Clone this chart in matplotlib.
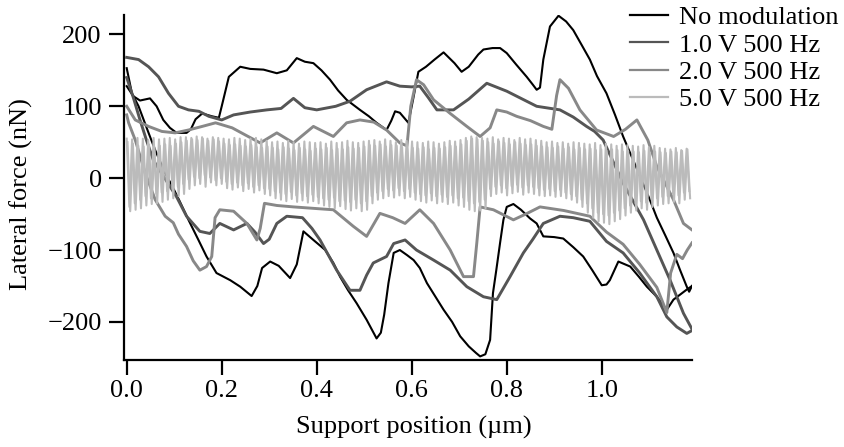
import numpy as np
import matplotlib
matplotlib.use("Agg")
import matplotlib.pyplot as plt

# ---------------- data ----------------
labels = ["No modulation", "1.0 V 500 Hz", "2.0 V 500 Hz", "5.0 V 500 Hz"]
colors = ["#000000", "#555555", "#888888", "#bbbbbb"]

# No modulation
nomod_up_x = [0.0, 0.014, 0.028, 0.049, 0.063, 0.077, 0.091, 0.105, 0.126, 0.135, 0.145, 0.159, 0.18, 0.194,
              0.2, 0.215, 0.239, 0.26, 0.288, 0.316, 0.337, 0.358, 0.375, 0.393, 0.41, 0.428, 0.445, 0.463,
              0.491, 0.51, 0.526, 0.547, 0.557, 0.565, 0.575, 0.593, 0.603, 0.614, 0.63, 0.648, 0.667, 0.69,
              0.705, 0.72, 0.74, 0.751, 0.77, 0.786, 0.8, 0.82, 0.842, 0.855, 0.863, 0.87, 0.877, 0.891,
              0.909, 0.925, 0.94, 0.958, 0.975, 0.99, 1.01, 1.028, 1.045, 1.063, 1.081, 1.1, 1.116, 1.134,
              1.151, 1.165, 1.179, 1.184, 1.19]
nomod_up_y = [128, 114, 108, 111, 100, 81, 70, 63, 63, 68, 82, 90, 86, 84, 100, 141, 155, 152, 151, 146, 150,
              167, 162, 160, 150, 137, 122, 109, 95, 86, 77, 67, 80, 93, 91, 77, 110, 148, 155, 165, 175,
              160, 148, 155, 172, 179, 181, 181, 174, 158, 141, 130, 123, 126, 165, 211, 226, 218, 206, 185,
              165, 142, 118, 88, 58, 30, 2, -28, -55, -80, -104, -128, -151, -158, -150]
nomod_dn_x = [0.0, 0.011, 0.025, 0.046, 0.06, 0.08, 0.095, 0.11, 0.13, 0.151, 0.168, 0.189, 0.218, 0.239,
              0.263, 0.275, 0.285, 0.302, 0.32, 0.344, 0.358, 0.372, 0.393, 0.418, 0.435, 0.449, 0.466, 0.484,
              0.505, 0.526, 0.535, 0.542, 0.551, 0.562, 0.575, 0.59, 0.604, 0.617, 0.632, 0.65, 0.667, 0.685,
              0.702, 0.72, 0.735, 0.744, 0.755, 0.765, 0.771, 0.778, 0.786, 0.793, 0.8, 0.814, 0.83, 0.849,
              0.863, 0.877, 0.9, 0.919, 0.94, 0.961, 0.98, 1.0, 1.01, 1.017, 1.035, 1.06, 1.078, 1.095, 1.116,
              1.137, 1.151, 1.165, 1.179, 1.19]
nomod_dn_y = [153, 118, 100, 63, 39, 8, -10, -30, -58, -86, -109, -132, -142, -151, -164, -150, -125, -116,
              -122, -139, -120, -74, -86, -100, -118, -137, -156, -174, -197, -223, -215, -190, -146, -104,
              -100, -107, -114, -125, -146, -165, -183, -200, -220, -234, -243, -248, -245, -225, -160, -128,
              -90, -58, -40, -36, -44, -56, -63, -81, -82, -84, -96, -109, -128, -149, -148, -142, -116, -123,
              -137, -151, -165, -183, -169, -162, -155, -150]

# 1.0 V 500 Hz
v1_up_x = [0.0, 0.025, 0.046, 0.067, 0.088, 0.109, 0.13, 0.152, 0.173, 0.2, 0.225, 0.26, 0.295, 0.325, 0.351,
           0.375, 0.4, 0.44, 0.47, 0.505, 0.547, 0.575, 0.6, 0.617, 0.635, 0.653, 0.688, 0.72, 0.758, 0.8,
           0.863, 0.912, 0.94, 0.968, 0.985, 1.003, 1.045, 1.088, 1.116, 1.144, 1.172, 1.19]
v1_up_y = [168, 165, 155, 141, 118, 100, 95, 93, 86, 81, 88, 92, 95, 97, 111, 98, 95, 100, 107, 123, 134, 128,
           127, 128, 112, 95, 95, 110, 132, 121, 100, 95, 85, 72, 65, 53, -7, -58, -100, -142, -188, -210]
v1_dn_x = [0.0, 0.014, 0.028, 0.042, 0.056, 0.08, 0.105, 0.126, 0.154, 0.175, 0.196, 0.225, 0.253, 0.27,
           0.288, 0.3, 0.316, 0.337, 0.37, 0.39, 0.407, 0.442, 0.47, 0.491, 0.505, 0.519, 0.547, 0.562, 0.586,
           0.61, 0.646, 0.681, 0.716, 0.751, 0.779, 0.807, 0.835, 0.855, 0.877, 0.912, 0.94, 0.975, 1.01,
           1.045, 1.08, 1.116, 1.137, 1.158, 1.179, 1.19]
v1_dn_y = [140, 112, 81, 52, 25, 0, -26, -53, -74, -77, -63, -72, -63, -75, -91, -85, -63, -53, -55, -70,
           -86, -128, -156, -156, -135, -118, -109, -91, -86, -100, -114, -128, -151, -165, -169, -137, -104,
           -85, -63, -53, -55, -60, -88, -104, -132, -165, -193, -207, -216, -212]

# 2.0 V 500 Hz
v2_up_x = [0.0, 0.018, 0.046, 0.074, 0.102, 0.13, 0.159, 0.187, 0.222, 0.25, 0.281, 0.316, 0.351, 0.393,
           0.435, 0.463, 0.491, 0.52, 0.547, 0.575, 0.59, 0.598, 0.61, 0.625, 0.646, 0.681, 0.716, 0.744,
           0.765, 0.779, 0.8, 0.821, 0.85, 0.877, 0.895, 0.905, 0.912, 0.93, 0.954, 0.989, 1.025, 1.05,
           1.074, 1.097, 1.116, 1.151, 1.172, 1.19]
v2_up_y = [100, 81, 72, 65, 63, 67, 72, 77, 70, 60, 49, 63, 49, 72, 58, 77, 81, 78, 67, 49, 45, 100, 137,
           130, 109, 90, 72, 58, 70, 95, 92, 86, 80, 72, 68, 115, 137, 125, 95, 67, 58, 68, 81, 53, 16, -30,
           -63, -72]
v2_dn_x = [0.0, 0.004, 0.018, 0.039, 0.06, 0.081, 0.098, 0.109, 0.126, 0.14, 0.154, 0.168, 0.179, 0.186,
           0.196, 0.225, 0.253, 0.274, 0.281, 0.29, 0.316, 0.351, 0.393, 0.435, 0.477, 0.505, 0.533, 0.56,
           0.586, 0.617, 0.646, 0.681, 0.709, 0.73, 0.737, 0.744, 0.772, 0.814, 0.84, 0.87, 0.92, 0.975,
           1.01, 1.045, 1.08, 1.116, 1.137, 1.145, 1.158, 1.17, 1.18, 1.19]
v2_dn_y = [88, 77, 53, 7, -30, -53, -62, -78, -95, -115, -128, -123, -109, -55, -44, -46, -63, -86, -70,
           -35, -38, -40, -42, -44, -67, -81, -49, -55, -63, -44, -63, -100, -137, -137, -90, -40, -44, -58,
           -50, -40, -45, -53, -75, -92, -120, -152, -187, -132, -106, -112, -100, -90]

# 5.0 V 500 Hz : one value per oscillation maximum / minimum (105 cycles over the scan)
v5_a_max = [55, 54, 56, 55, 53, 56, 54, 55, 56, 54, 57, 57, 56, 58, 57, 55, 57, 56,
            55, 54, 56, 55, 53, 55, 56, 54, 52, 50, 51, 49, 52, 50, 48, 51, 50, 49,
            50, 48, 51, 49, 50, 52, 50, 49, 51, 52, 53, 51, 54, 52, 50, 53, 52, 51,
            50, 49, 51, 50, 48, 50, 52, 51, 53, 56, 58, 57, 56, 55, 57, 54, 56, 55,
            53, 56, 54, 55, 53, 52, 50, 51, 49, 50, 48, 50, 49, 48, 47, 49, 46, 48,
            47, 45, 47, 46, 45, 44, 46, 43, 45, 42, 41, 40, 42, 39, 41]
v5_a_min = [-40, -35, -30, -25, -28, -22, -20, -18, -15, -12, -8, -2, 2, 0, 4, 1, -3, 0,
            -5, -8, -6, -10, -7, -12, -10, -14, -15, -18, -20, -22, -19, -24, -21, -25, -23, -26,
            -28, -30, -27, -32, -31, -33, -30, -35, -32, -25, -20, -18, -15, -17, -14, -18, -15, -20,
            -22, -24, -21, -25, -23, -26, -24, -28, -27, -32, -35, -33, -30, -15, -12, -10, -14, -11,
            -9, -13, -10, -12, -14, -16, -15, -18, -16, -20, -22, -25, -30, -35, -42, -48, -50, -52,
            -48, -45, -42, -38, -35, -32, -34, -30, -28, -26, -25, -22, -24, -20, -18]
v5_b_max = [50, 48, 45, 44, 46, 43, 45, 47, 45, 48, 50, 52, 54, 53, 55, 52, 54, 51,
            48, 46, 47, 45, 44, 46, 43, 42, 44, 42, 40, 43, 41, 39, 42, 40, 38, 41,
            40, 42, 39, 41, 40, 43, 41, 42, 44, 46, 45, 47, 44, 46, 45, 43, 44, 42,
            41, 43, 40, 42, 41, 43, 45, 44, 47, 52, 55, 54, 52, 50, 48, 51, 49, 47,
            50, 48, 46, 47, 45, 44, 43, 42, 44, 41, 43, 40, 42, 40, 41, 39, 40, 38,
            40, 39, 37, 38, 37, 36, 38, 35, 37, 36, 35, 37, 36, 38, 40]
v5_b_min = [-46, -44, -42, -38, -36, -35, -33, -30, -28, -25, -22, -15, -10, -8, -12, -6, -10, -8,
            -14, -16, -13, -18, -15, -20, -17, -22, -24, -28, -30, -32, -29, -33, -31, -34, -32, -35,
            -38, -40, -42, -39, -43, -45, -42, -46, -44, -35, -30, -28, -25, -27, -24, -28, -26, -30,
            -32, -34, -31, -35, -33, -36, -34, -38, -40, -44, -46, -45, -42, -25, -22, -20, -24, -21,
            -19, -23, -20, -22, -24, -25, -24, -26, -25, -28, -30, -34, -40, -48, -55, -60, -62, -64,
            -60, -57, -52, -48, -45, -42, -44, -40, -38, -36, -35, -33, -35, -30, -28]
scan_end = 1.19  # um

# ---------------- figure ----------------
W, H = 845, 447
fig = plt.figure(figsize=(W / 100, H / 100), dpi=100)
ax = fig.add_axes([124 / W, 1 - 360 / H, (692 - 124) / W, (360 - 15) / H])

FONT = "Liberation Serif"
FS = 19
plt.rcParams["font.family"] = FONT
plt.rcParams["axes.unicode_minus"] = True

LW = 1.5
# No modulation
ax.plot(nomod_up_x, nomod_up_y, color=colors[0], lw=LW, label=labels[0])
ax.plot(nomod_dn_x, nomod_dn_y, color=colors[0], lw=LW)
# 1.0 V
ax.plot(v1_up_x, v1_up_y, color=colors[1], lw=LW + 0.6, label=labels[1])
ax.plot(v1_dn_x, v1_dn_y, color=colors[1], lw=LW + 0.6)
# 2.0 V
ax.plot(v2_up_x, v2_up_y, color=colors[2], lw=LW + 0.6, label=labels[2])
ax.plot(v2_dn_x, v2_dn_y, color=colors[2], lw=LW + 0.6)


def zigzag(maxima, minima):
    vals = []
    for a, b in zip(maxima, minima):
        vals.extend([a, b])
    return np.array(vals, dtype=float)


ya = zigzag(v5_a_max, v5_a_min)
yb = zigzag(v5_b_max, v5_b_min)
half = scan_end / (2 * len(v5_a_max))
xa = np.arange(len(ya)) * half
xb = np.arange(len(yb)) * half + 0.3 * half
ax.plot(xa, ya, color=colors[3], lw=LW, label=labels[3])
ax.plot(xb, yb, color=colors[3], lw=LW)

ax.set_xlim(-0.0057, 1.19)
ax.set_ylim(-253, 227)
ax.set_xticks([0.0, 0.2, 0.4, 0.6, 0.8, 1.0])
ax.set_xticklabels(["0.0", "0.2", "0.4", "0.6", "0.8", "1.0"])
ax.set_yticks([-200, -100, 0, 100, 200])

for s in ["top", "right"]:
    ax.spines[s].set_visible(False)
for s in ["left", "bottom"]:
    ax.spines[s].set_linewidth(1.6)
ax.tick_params(axis="both", direction="out", length=11, width=1.6, labelsize=FS)
ax.tick_params(axis="x", pad=3.5)
ax.tick_params(axis="y", pad=5)
for t in ax.get_xticklabels() + ax.get_yticklabels():
    t.set_fontfamily(FONT)

ax.set_xlabel("Support position (\u00b5m)", fontsize=FS, family=FONT)
ax.set_ylabel("Lateral force (nN)", fontsize=FS, family=FONT)
ax.xaxis.set_label_coords(0.511, -0.162)
ax.yaxis.set_label_coords(-0.16, 0.48)

leg = ax.legend(loc="upper left", bbox_to_anchor=(630 / W, 1 - 6 / H), bbox_transform=fig.transFigure,
                frameon=False, prop={"family": FONT, "size": FS}, borderpad=0, borderaxespad=0,
                handlelength=1.44, handletextpad=0.42, labelspacing=0.14)
for h in leg.get_lines():
    h.set_linewidth(1.6)

fig.savefig("out.png", dpi=100)
